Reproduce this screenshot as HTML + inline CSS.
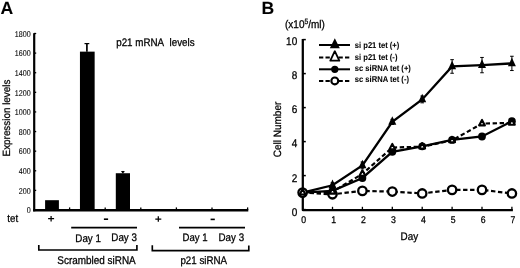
<!DOCTYPE html>
<html><head><meta charset="utf-8"><style>
html,body{margin:0;padding:0;background:#fff;}
body{width:520px;height:268px;overflow:hidden;}
svg{display:block;will-change:transform;}
text{text-rendering:geometricPrecision;font-family:"Liberation Sans",sans-serif;fill:#000;stroke:#000;stroke-width:0.25px;}
.b{font-weight:bold;stroke-width:0.05px;}
</style></head><body>
<svg width="520" height="268" viewBox="0 0 520 268">
<rect width="520" height="268" fill="#fff"/>
<text transform="translate(0.6 13.8)" font-size="17.6" class="b">A</text>
<line x1="34.2" y1="33.2" x2="34.2" y2="211.3" stroke="#000" stroke-width="2.2"/>
<line x1="33.1" y1="210.25" x2="248.3" y2="210.25" stroke="#000" stroke-width="2.3"/>
<line x1="34.0" y1="210" x2="36.2" y2="210" stroke="#000" stroke-width="1.3"/>
<text transform="translate(30.7 213.2) scale(0.95 1.12)" font-size="7.5" text-anchor="end" style="stroke-width:0.08px">0</text>
<line x1="34.0" y1="190.39" x2="36.2" y2="190.39" stroke="#000" stroke-width="1.3"/>
<text transform="translate(30.7 193.59) scale(0.95 1.12)" font-size="7.5" text-anchor="end" style="stroke-width:0.08px">200</text>
<line x1="34.0" y1="170.78" x2="36.2" y2="170.78" stroke="#000" stroke-width="1.3"/>
<text transform="translate(30.7 173.98) scale(0.95 1.12)" font-size="7.5" text-anchor="end" style="stroke-width:0.08px">400</text>
<line x1="34.0" y1="151.17" x2="36.2" y2="151.17" stroke="#000" stroke-width="1.3"/>
<text transform="translate(30.7 154.37) scale(0.95 1.12)" font-size="7.5" text-anchor="end" style="stroke-width:0.08px">600</text>
<line x1="34.0" y1="131.56" x2="36.2" y2="131.56" stroke="#000" stroke-width="1.3"/>
<text transform="translate(30.7 134.76) scale(0.95 1.12)" font-size="7.5" text-anchor="end" style="stroke-width:0.08px">800</text>
<line x1="34.0" y1="111.94" x2="36.2" y2="111.94" stroke="#000" stroke-width="1.3"/>
<text transform="translate(30.7 115.14) scale(0.95 1.12)" font-size="7.5" text-anchor="end" style="stroke-width:0.08px">1000</text>
<line x1="34.0" y1="92.33" x2="36.2" y2="92.33" stroke="#000" stroke-width="1.3"/>
<text transform="translate(30.7 95.53) scale(0.95 1.12)" font-size="7.5" text-anchor="end" style="stroke-width:0.08px">1200</text>
<line x1="34.0" y1="72.72" x2="36.2" y2="72.72" stroke="#000" stroke-width="1.3"/>
<text transform="translate(30.7 75.92) scale(0.95 1.12)" font-size="7.5" text-anchor="end" style="stroke-width:0.08px">1400</text>
<line x1="34.0" y1="53.11" x2="36.2" y2="53.11" stroke="#000" stroke-width="1.3"/>
<text transform="translate(30.7 56.31) scale(0.95 1.12)" font-size="7.5" text-anchor="end" style="stroke-width:0.08px">1600</text>
<line x1="34.0" y1="33.5" x2="36.2" y2="33.5" stroke="#000" stroke-width="1.3"/>
<text transform="translate(30.7 36.7) scale(0.95 1.12)" font-size="7.5" text-anchor="end" style="stroke-width:0.08px">1800</text>
<rect x="45.1" y="200.19" width="13.8" height="9.81" fill="#000"/>
<line x1="69.6" y1="210.0" x2="69.6" y2="207.4" stroke="#000" stroke-width="1.3"/>
<rect x="79.95" y="51.64" width="14.7" height="158.36" fill="#000"/>
<line x1="86.9" y1="43.6" x2="86.9" y2="51.64" stroke="#000" stroke-width="1.7"/>
<line x1="84.5" y1="43.6" x2="89.3" y2="43.6" stroke="#000" stroke-width="1.2"/>
<line x1="105.2" y1="210.0" x2="105.2" y2="207.4" stroke="#000" stroke-width="1.3"/>
<rect x="115.8" y="173.23" width="14.2" height="36.77" fill="#000"/>
<line x1="122.9" y1="171.56" x2="122.9" y2="173.23" stroke="#000" stroke-width="1.7"/>
<line x1="121.3" y1="171.56" x2="124.5" y2="171.56" stroke="#000" stroke-width="1.2"/>
<line x1="140.8" y1="210.0" x2="140.8" y2="207.4" stroke="#000" stroke-width="1.3"/>
<rect x="151.5" y="209.8" width="14.2" height="0.2" fill="#000"/>
<line x1="176.4" y1="210.0" x2="176.4" y2="207.4" stroke="#000" stroke-width="1.3"/>
<rect x="187.1" y="209.8" width="14.2" height="0.2" fill="#000"/>
<line x1="212" y1="210.0" x2="212" y2="207.4" stroke="#000" stroke-width="1.3"/>
<rect x="222.7" y="209.8" width="14.2" height="0.2" fill="#000"/>
<line x1="247.6" y1="210.0" x2="247.6" y2="207.4" stroke="#000" stroke-width="1.3"/>
<text transform="translate(116.2 45.8) scale(1 1.12)" font-size="9.8">p21 mRNA&#160;&#160;levels</text>
<text transform="translate(10 118) rotate(-90) scale(1 1.06)" font-size="9.9" text-anchor="middle">Expression levels</text>
<text transform="translate(7.3 221.8) scale(1 1.12)" font-size="9.7">tet</text>
<path d="M48.1 218.7 H54.1 M51.1 215.9 V221.5" stroke="#000" stroke-width="1.25" fill="none"/>
<path d="M155.3 219 H161.3 M158.3 216.2 V221.8" stroke="#000" stroke-width="1.25" fill="none"/>
<rect x="103.9" y="218.4" width="4.2" height="1.6" fill="#000"/>
<rect x="210.6" y="218.6" width="4.2" height="1.6" fill="#000"/>
<line x1="71.2" y1="227.7" x2="137" y2="227.7" stroke="#000" stroke-width="1.7"/>
<line x1="179.0" y1="227.7" x2="245" y2="227.7" stroke="#000" stroke-width="1.7"/>
<text transform="translate(75.3 241.6) scale(1 1.12)" font-size="9.8">Day 1</text>
<text transform="translate(111.3 240.9) scale(1 1.12)" font-size="9.8">Day 3</text>
<text transform="translate(182.5 241.3) scale(1 1.12)" font-size="9.6">Day 1</text>
<text transform="translate(218.5 240.9) scale(1 1.12)" font-size="9.8">Day 3</text>
<path d="M38.8 244.9 V250.0 H136.9 V244.9" fill="none" stroke="#000" stroke-width="1.65"/>
<path d="M152.3 245.3 V250.6 H248.8 V245.6" fill="none" stroke="#000" stroke-width="1.65"/>
<text transform="translate(57.3 263.6) scale(1 1.12)" font-size="9.95">Scrambled siRNA</text>
<text transform="translate(180.4 263.6) scale(1 1.12)" font-size="9.75">p21 siRNA</text>
<text transform="translate(261.6 13.8)" font-size="17.6" class="b">B</text>
<text transform="translate(285 27.8) scale(1 1.12)" font-size="10">(x10<tspan font-size="6.8" dy="-3.6">5</tspan><tspan dy="3.6">/ml)</tspan></text>
<path d="M302.8 39 V210.1 H512.9" fill="none" stroke="#000" stroke-width="2.25" stroke-linejoin="round"/>
<line x1="302.6" y1="209.6" x2="305.8" y2="209.6" stroke="#000" stroke-width="1.5"/>
<text transform="translate(297.2 215.7) scale(1 1.12)" font-size="10" text-anchor="end">0</text>
<line x1="302.6" y1="175.6" x2="305.8" y2="175.6" stroke="#000" stroke-width="1.5"/>
<text transform="translate(297.2 182.1) scale(1 1.12)" font-size="10" text-anchor="end">2</text>
<line x1="302.6" y1="141.6" x2="305.8" y2="141.6" stroke="#000" stroke-width="1.5"/>
<text transform="translate(297.2 146.9) scale(1 1.12)" font-size="10" text-anchor="end">4</text>
<line x1="302.6" y1="107.6" x2="305.8" y2="107.6" stroke="#000" stroke-width="1.5"/>
<text transform="translate(297.2 113) scale(1 1.12)" font-size="10" text-anchor="end">6</text>
<line x1="302.6" y1="73.6" x2="305.8" y2="73.6" stroke="#000" stroke-width="1.5"/>
<text transform="translate(297.2 78.5) scale(1 1.12)" font-size="10" text-anchor="end">8</text>
<line x1="302.6" y1="39.6" x2="305.8" y2="39.6" stroke="#000" stroke-width="1.5"/>
<text transform="translate(297.2 44.7) scale(1 1.12)" font-size="10" text-anchor="end">10</text>
<text transform="translate(303.7 223) scale(1 1.12)" font-size="8.7" text-anchor="middle">0</text>
<line x1="332.5" y1="209.6" x2="332.5" y2="206.79999999999998" stroke="#000" stroke-width="1.3"/>
<text transform="translate(333.6 223) scale(1 1.12)" font-size="8.7" text-anchor="middle">1</text>
<line x1="362.4" y1="209.6" x2="362.4" y2="206.79999999999998" stroke="#000" stroke-width="1.3"/>
<text transform="translate(363.5 223) scale(1 1.12)" font-size="8.7" text-anchor="middle">2</text>
<line x1="392.3" y1="209.6" x2="392.3" y2="206.79999999999998" stroke="#000" stroke-width="1.3"/>
<text transform="translate(393.4 223) scale(1 1.12)" font-size="8.7" text-anchor="middle">3</text>
<line x1="422.2" y1="209.6" x2="422.2" y2="206.79999999999998" stroke="#000" stroke-width="1.3"/>
<text transform="translate(423.3 223) scale(1 1.12)" font-size="8.7" text-anchor="middle">4</text>
<line x1="452.1" y1="209.6" x2="452.1" y2="206.79999999999998" stroke="#000" stroke-width="1.3"/>
<text transform="translate(453.2 223) scale(1 1.12)" font-size="8.7" text-anchor="middle">5</text>
<line x1="482" y1="209.6" x2="482" y2="206.79999999999998" stroke="#000" stroke-width="1.3"/>
<text transform="translate(483.1 223) scale(1 1.12)" font-size="8.7" text-anchor="middle">6</text>
<line x1="511.9" y1="209.6" x2="511.9" y2="206.79999999999998" stroke="#000" stroke-width="1.3"/>
<text transform="translate(513 223) scale(1 1.12)" font-size="8.7" text-anchor="middle">7</text>
<text transform="translate(409.3 239.6) scale(1 1.12)" font-size="9.9" text-anchor="middle">Day</text>
<text transform="translate(281 129.5) rotate(-90) scale(1 1.06)" font-size="10" text-anchor="middle">Cell Number</text>
<polyline points="302.6,192.6 332.5,194.3 362.4,190.9 392.3,191.58 422.2,193.45 452.1,189.88 482,189.88 511.9,193.45" fill="none" stroke="#000" stroke-width="2.2" stroke-dasharray="4.4,2.6"/>
<polyline points="302.6,192.6 332.5,190.9 362.4,177.98 392.3,151.8 422.2,146.36 452.1,139.9 482,136.5 511.9,121.2" fill="none" stroke="#000" stroke-width="2.3"/>
<polyline points="302.6,192.6 332.5,191.75 362.4,173.9 392.3,147.55 422.2,146.7 452.1,140.41 482,123.58 511.9,122.9" fill="none" stroke="#000" stroke-width="2.2" stroke-dasharray="4.4,2.6"/>
<polyline points="302.6,192.6 332.5,185.29 362.4,165.4 392.3,121.88 422.2,99.44 452.1,66.46 482,65.1 511.9,63.4" fill="none" stroke="#000" stroke-width="2.3"/>
<circle cx="302.6" cy="192.6" r="3.9" fill="#000"/>
<circle cx="332.5" cy="190.9" r="3.9" fill="#000"/>
<circle cx="362.4" cy="177.98" r="3.9" fill="#000"/>
<circle cx="392.3" cy="151.8" r="3.9" fill="#000"/>
<circle cx="422.2" cy="146.36" r="3.9" fill="#000"/>
<circle cx="452.1" cy="139.9" r="3.9" fill="#000"/>
<circle cx="482" cy="136.5" r="3.9" fill="#000"/>
<circle cx="511.9" cy="121.2" r="3.9" fill="#000"/>
<circle cx="302.6" cy="192.6" r="4.2" fill="#fff" stroke="#000" stroke-width="2.3"/>
<circle cx="332.5" cy="194.3" r="4.2" fill="#fff" stroke="#000" stroke-width="2.3"/>
<circle cx="362.4" cy="190.9" r="4.2" fill="#fff" stroke="#000" stroke-width="2.3"/>
<circle cx="392.3" cy="191.58" r="4.2" fill="#fff" stroke="#000" stroke-width="2.3"/>
<circle cx="422.2" cy="193.45" r="4.2" fill="#fff" stroke="#000" stroke-width="2.3"/>
<circle cx="452.1" cy="189.88" r="4.2" fill="#fff" stroke="#000" stroke-width="2.3"/>
<circle cx="482" cy="189.88" r="4.2" fill="#fff" stroke="#000" stroke-width="2.3"/>
<circle cx="511.9" cy="193.45" r="4.2" fill="#fff" stroke="#000" stroke-width="2.3"/>
<line x1="332.5" y1="182.74" x2="332.5" y2="187.84" stroke="#000" stroke-width="1"/>
<line x1="330.7" y1="182.74" x2="334.3" y2="182.74" stroke="#000" stroke-width="1"/>
<line x1="330.7" y1="187.84" x2="334.3" y2="187.84" stroke="#000" stroke-width="1"/>
<polygon points="332.5,179.56 328.5,188.16 336.5,188.16" fill="#000"/>
<line x1="362.4" y1="162" x2="362.4" y2="168.8" stroke="#000" stroke-width="1"/>
<line x1="360.6" y1="162" x2="364.2" y2="162" stroke="#000" stroke-width="1"/>
<line x1="360.6" y1="168.8" x2="364.2" y2="168.8" stroke="#000" stroke-width="1"/>
<polygon points="362.4,159.67 358.4,168.27 366.4,168.27" fill="#000"/>
<line x1="392.3" y1="119.33" x2="392.3" y2="124.43" stroke="#000" stroke-width="1"/>
<line x1="390.5" y1="119.33" x2="394.1" y2="119.33" stroke="#000" stroke-width="1"/>
<line x1="390.5" y1="124.43" x2="394.1" y2="124.43" stroke="#000" stroke-width="1"/>
<polygon points="392.3,116.15 388.3,124.75 396.3,124.75" fill="#000"/>
<line x1="422.2" y1="96.04" x2="422.2" y2="102.84" stroke="#000" stroke-width="1"/>
<line x1="420.4" y1="96.04" x2="424" y2="96.04" stroke="#000" stroke-width="1"/>
<line x1="420.4" y1="102.84" x2="424" y2="102.84" stroke="#000" stroke-width="1"/>
<polygon points="422.2,93.71 418.2,102.31 426.2,102.31" fill="#000"/>
<line x1="452.1" y1="59.66" x2="452.1" y2="73.26" stroke="#000" stroke-width="1"/>
<line x1="450.3" y1="59.66" x2="453.9" y2="59.66" stroke="#000" stroke-width="1"/>
<line x1="450.3" y1="73.26" x2="453.9" y2="73.26" stroke="#000" stroke-width="1"/>
<polygon points="452.1,60.73 448.1,69.33 456.1,69.33" fill="#000"/>
<line x1="482" y1="57.45" x2="482" y2="72.75" stroke="#000" stroke-width="1"/>
<line x1="480.2" y1="57.45" x2="483.8" y2="57.45" stroke="#000" stroke-width="1"/>
<line x1="480.2" y1="72.75" x2="483.8" y2="72.75" stroke="#000" stroke-width="1"/>
<polygon points="482,59.37 478,67.97 486,67.97" fill="#000"/>
<line x1="511.9" y1="56.26" x2="511.9" y2="70.54" stroke="#000" stroke-width="1"/>
<line x1="510.1" y1="56.26" x2="513.7" y2="56.26" stroke="#000" stroke-width="1"/>
<line x1="510.1" y1="70.54" x2="513.7" y2="70.54" stroke="#000" stroke-width="1"/>
<polygon points="511.9,57.67 507.9,66.27 515.9,66.27" fill="#000"/>
<polygon points="302.6,188.93 299.7,194.43 305.5,194.43" fill="#fff" stroke="#000" stroke-width="2.1" stroke-linejoin="round"/>
<polygon points="332.5,188.08 329.6,193.58 335.4,193.58" fill="#fff" stroke="#000" stroke-width="2.1" stroke-linejoin="round"/>
<polygon points="362.4,170.23 359.5,175.73 365.3,175.73" fill="#fff" stroke="#000" stroke-width="2.1" stroke-linejoin="round"/>
<polygon points="392.3,143.88 389.4,149.38 395.2,149.38" fill="#fff" stroke="#000" stroke-width="2.1" stroke-linejoin="round"/>
<polygon points="422.2,143.03 419.3,148.53 425.1,148.53" fill="#fff" stroke="#000" stroke-width="2.1" stroke-linejoin="round"/>
<polygon points="452.1,136.74 449.2,142.24 455,142.24" fill="#fff" stroke="#000" stroke-width="2.1" stroke-linejoin="round"/>
<polygon points="482,119.91 479.1,125.41 484.9,125.41" fill="#fff" stroke="#000" stroke-width="2.1" stroke-linejoin="round"/>
<polygon points="511.9,119.23 509,124.73 514.8,124.73" fill="#fff" stroke="#000" stroke-width="2.1" stroke-linejoin="round"/>
<line x1="319" y1="45" x2="350" y2="45" stroke="#000" stroke-width="2"/>
<polygon points="334.8,38.33 329.8,48.33 339.8,48.33" fill="#000"/>
<line x1="319" y1="57.5" x2="350" y2="57.5" stroke="#000" stroke-width="2" stroke-dasharray="4.3,2.2"/>
<polygon points="334.8,51.23 330.3,60.63 339.3,60.63" fill="#fff" stroke="#000" stroke-width="1.8" stroke-linejoin="round"/>
<line x1="319" y1="69.3" x2="350" y2="69.3" stroke="#000" stroke-width="2"/>
<circle cx="334.8" cy="69.3" r="3.65" fill="#000"/>
<line x1="319" y1="80.9" x2="350" y2="80.9" stroke="#000" stroke-width="2" stroke-dasharray="4.3,2.2"/>
<circle cx="334.8" cy="80.9" r="3.45" fill="#fff" stroke="#000" stroke-width="2.1"/>
<text transform="translate(354.8 47.5) scale(1 1.12)" font-size="7.6" class="b">si p21 tet (+)</text>
<text transform="translate(354.8 59.6) scale(1 1.12)" font-size="7.6" class="b">si p21 tet (-)</text>
<text transform="translate(354.8 71.2) scale(1 1.12)" font-size="7.6" class="b">sc siRNA tet (+)</text>
<text transform="translate(354.8 82) scale(1 1.12)" font-size="7.6" class="b">sc siRNA tet (-)</text>
</svg>
</body></html>
